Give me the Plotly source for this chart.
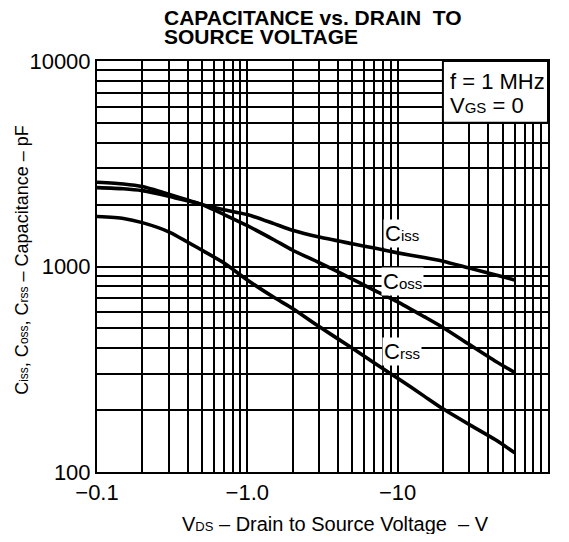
import math
import plotly.graph_objects as go

# ---- data ----
vds_mag = [0.1, 0.15, 0.2, 0.3, 0.5, 0.7, 1, 1.5, 2, 3, 5, 7, 10, 15, 20, 30, 45, 60]
ciss = [2420, 2390, 2340, 2200, 2000, 1890, 1790, 1617, 1500, 1390, 1290, 1229, 1165, 1105, 1060, 982, 910, 860]
coss = [2570, 2520, 2450, 2250, 2000, 1790, 1580, 1350, 1200, 1045, 869, 766, 673, 570, 505, 417, 345, 305]
crss = [1750, 1713, 1635, 1475, 1199, 1040, 860, 708, 625, 510, 400, 339, 286, 234, 203, 170, 143, 124]

x_grid = [m * 10 ** e for e in (-1, 0, 1) for m in range(1, 10)] + [100]
x_labels = {0.1: "\u22120.1", 1: "\u22121.0", 10: "\u221210", 100: "\u2212100"}
y_grid = [m * 10 ** e for e in (2, 3) for m in range(1, 10)] + [10000]
y_labels = {100: "100", 1000: "1000", 10000: "10000"}

FONT = "Liberation Sans, Arial, sans-serif"

# page body has an 8px margin; figure is sized so that the plot lands where the reference has it
PL, PR, PT, PB = 96.7, 548.3, 60.5, 471.7   # plot box in screen pixels


def px(sx):
    return (sx - PL) / (PR - PL)


def py(sy):
    return (PB - sy) / (PB - PT)


fig = go.Figure()
for name, vals in (("Ciss", ciss), ("Coss", coss), ("Crss", crss)):
    fig.add_trace(go.Scatter(x=vds_mag, y=vals, mode="lines", name=name,
                             line=dict(color="black", width=3.6, shape="spline", smoothing=0.6),
                             showlegend=False, hoverinfo="skip"))

fig.update_xaxes(type="log", range=[-1, 2], tickmode="array", tickvals=x_grid,
                 ticktext=[x_labels.get(round(v, 6), "") for v in x_grid],
                 showgrid=True, gridcolor="black", gridwidth=1.6, zeroline=False,
                 showline=True, linecolor="black", linewidth=2, mirror=True,
                 ticks="", tickfont=dict(size=22, color="black", family=FONT))
fig.update_yaxes(type="log", range=[2, 4], tickmode="array", tickvals=y_grid,
                 ticktext=[y_labels.get(v, "") for v in y_grid],
                 showgrid=True, gridcolor="black", gridwidth=1.6, zeroline=False,
                 showline=True, linecolor="black", linewidth=2, mirror=True,
                 ticks="", tickfont=dict(size=22, color="black", family=FONT))

# condition box (top right)
fig.add_shape(type="rect", x0=20, x1=100, y0=5000, y1=10000, xref="x", yref="y",
              fillcolor="white", line=dict(color="black", width=2), layer="above")

fig.add_annotation(xref="paper", yref="paper", x=px(448), y=py(81), text="f = 1 MHz",
                   xanchor="left", yanchor="middle", showarrow=False,
                   font=dict(size=22, color="black", family=FONT))
fig.add_annotation(xref="paper", yref="paper", x=px(448), y=py(105),
                   text="V<span style='font-size:15px'>GS</span> = 0",
                   xanchor="left", yanchor="middle", showarrow=False,
                   font=dict(size=22, color="black", family=FONT))

for txt, xv, yv in (("C<span style='font-size:15px'>iss</span>", 10.7, 1440),
                    ("C<span style='font-size:15px'>oss</span>", 10.7, 850),
                    ("C<span style='font-size:15px'>rss</span>", 10.7, 385)):
    fig.add_annotation(x=math.log10(xv), y=math.log10(yv), text=txt, showarrow=False,
                       bgcolor="white", borderpad=1,
                       font=dict(size=22, color="black", family=FONT))

# titles
fig.add_annotation(xref="paper", yref="paper", x=px(162), y=py(16.5),
                   xanchor="left", yanchor="middle", showarrow=False,
                   text="<b>CAPACITANCE vs. DRAIN  TO</b>",
                   font=dict(size=21, color="black", family=FONT))
fig.add_annotation(xref="paper", yref="paper", x=px(162), y=py(36),
                   xanchor="left", yanchor="middle", showarrow=False,
                   text="<b>SOURCE VOLTAGE</b>",
                   font=dict(size=21, color="black", family=FONT))
fig.add_annotation(xref="paper", yref="paper", x=px(336), y=py(524),
                   xanchor="center", yanchor="middle", showarrow=False,
                   text="V<span style='font-size:13px'>DS</span> \u2013 Drain to Source Voltage  \u2013 V",
                   font=dict(size=20, color="black", family=FONT))
fig.add_annotation(xref="paper", yref="paper", x=px(22), y=py(259),
                   xanchor="center", yanchor="middle", showarrow=False, textangle=-90,
                   text="C<span style='font-size:12px'>iss</span>, C<span style='font-size:12px'>oss</span>, "
                        "C<span style='font-size:12px'>rss</span> \u2013 Capacitance \u2013 pF",
                   font=dict(size=18, color="black", family=FONT))

fig.update_layout(width=553, height=526,
                  margin=dict(l=PL - 8, r=553 - (PR - 8), t=PT - 8, b=526 - (PB - 8), autoexpand=False),
                  paper_bgcolor="white", plot_bgcolor="white")

fig.write_html("out.html")
